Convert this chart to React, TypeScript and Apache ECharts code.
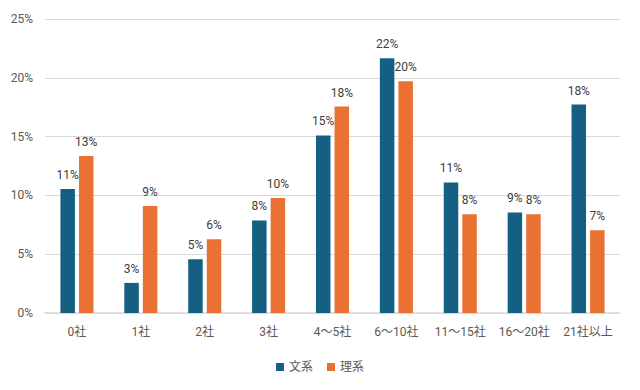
import React, { useEffect, useRef } from "react";
import * as echarts from "echarts";

const categories = ["0社", "1社", "2社", "3社", "4〜5社", "6〜10社", "11〜15社", "16〜20社", "21社以上"];
const bunkei = [10.55, 2.56, 4.57, 7.87, 15.1, 21.67, 11.1, 8.55, 17.72];
const rikei = [13.35, 9.09, 6.28, 9.77, 17.55, 19.7, 8.4, 8.4, 7.04];
const seriesNames = ["文系", "理系"];
const colors = ["#156082", "#E97132"];

const FONT = 'Roboto, "Noto Sans CJK JP", sans-serif';

export default function App() {
  const ref = useRef<HTMLDivElement>(null);
  useEffect(() => {
    if (!ref.current) return;
    const chart = echarts.init(ref.current, null, { renderer: "svg" });
    const label = {
      show: true,
      position: "top",
      distance: 8,
      color: "#404040",
      fontSize: 12,
      fontFamily: FONT,
      formatter: (p: any) => Math.round(p.value) + "%",
    };
    chart.setOption({
      animation: false,
      backgroundColor: "#ffffff",
      textStyle: { fontFamily: FONT },
      grid: { left: 45, right: 20, top: 19, bottom: 77, containLabel: false },
      legend: {
        data: seriesNames,
        bottom: 12,
        left: "center",
        itemWidth: 8,
        itemHeight: 8,
        itemGap: 14,
        icon: "rect",
        textStyle: { color: "#595959", fontSize: 12, fontFamily: FONT },
      },
      xAxis: {
        type: "category",
        data: categories,
        axisTick: { show: false },
        axisLine: { lineStyle: { color: "#D9D9D9", width: 1.5 } },
        axisLabel: { color: "#595959", fontSize: 12, margin: 13, interval: 0, fontFamily: FONT },
      },
      yAxis: {
        type: "value",
        min: 0,
        max: 25,
        interval: 5,
        axisLine: { show: false },
        axisTick: { show: false },
        splitLine: { lineStyle: { color: "#D9D9D9", width: 1 } },
        axisLabel: {
          color: "#595959",
          fontSize: 12,
          margin: 12,
          fontFamily: FONT,
          formatter: (v: number) => v + "%",
        },
      },
      series: [
        {
          name: seriesNames[0],
          type: "bar",
          data: bunkei,
          barWidth: 14.5,
          barGap: "28%",
          itemStyle: { color: colors[0] },
          label,
        },
        {
          name: seriesNames[1],
          type: "bar",
          data: rikei,
          barWidth: 14.5,
          itemStyle: { color: colors[1] },
          label,
        },
      ],
    });
    return () => chart.dispose();
  }, []);
  return (
    <div
      ref={ref}
      style={{ position: "fixed", left: 0, top: 0, width: 640, height: 390, background: "#fff" }}
    />
  );
}
